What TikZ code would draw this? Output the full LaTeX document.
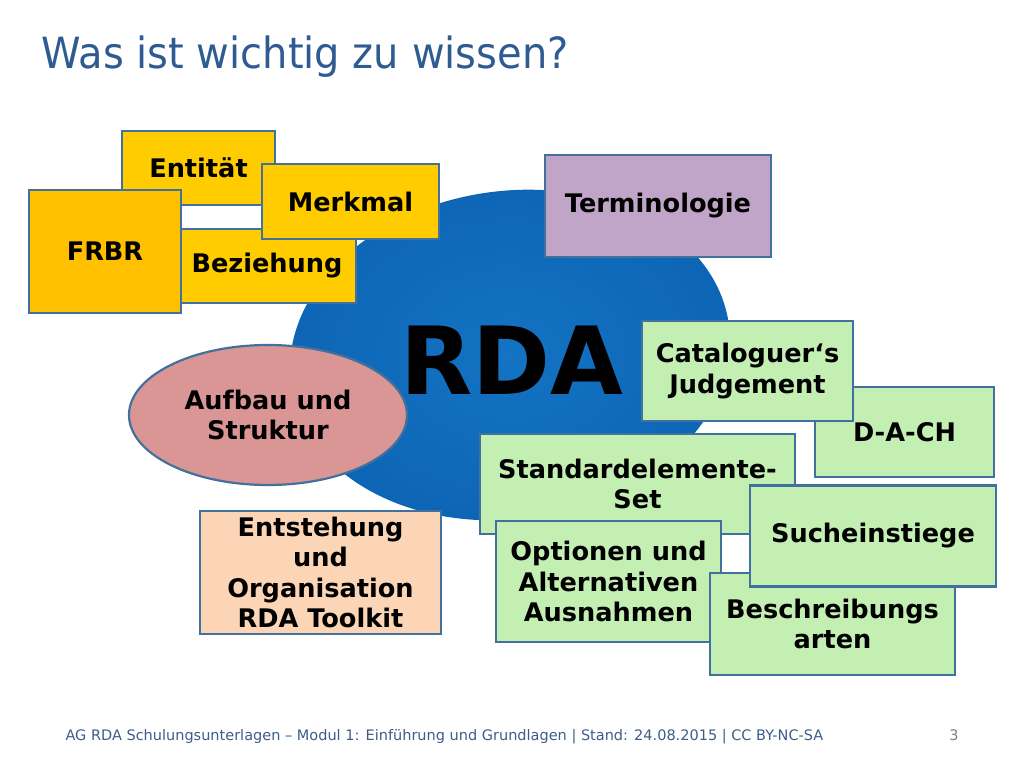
\documentclass[tikz,border=0pt]{standalone}
\usepackage{fontspec}
\setmainfont{DejaVu Sans}
\newfontfamily\slimfont[FakeStretch=0.93]{DejaVu Sans}
\newfontfamily\footfont{DejaVu Sans}
\usepackage{tikz}
\usetikzlibrary{shapes.geometric, positioning}

\definecolor{boxline}{HTML}{41719C}
\definecolor{gold}{HTML}{FFCC00}
\definecolor{frbrgold}{HTML}{FFC000}
\definecolor{lilac}{HTML}{C0A5C9}
\definecolor{rose}{HTML}{D99694}
\definecolor{peach}{HTML}{FBD5B5}
\definecolor{lightgreen}{HTML}{C4EFB2}
\definecolor{titleblue}{HTML}{2E5C92}
\definecolor{footblue}{HTML}{3D5D88}

\begin{document}
\begin{tikzpicture}[x=1pt,y=-1pt,
    font=\fontsize{25.6}{30.5}\selectfont\bfseries,
    box/.style={draw=boxline, line width=2.2pt, inner sep=0pt, align=center},
    goldbox/.style={box, fill=gold},
    greenbox/.style={box, fill=lightgreen}]

\useasboundingbox (0,0) rectangle (1024,768);

% Titel
\node[anchor=base west,
    text=titleblue,
    font=\slimfont\fontsize{43}{43}\selectfont
] (title) at (38,68) {Was ist wichtig zu wissen?};

% RDA
\node[ellipse,
    minimum width=442pt,
    minimum height=328pt,
    rotate=8,
    inner color={rgb,255:red,20;green,115;blue,196},
    outer color={rgb,255:red,13;green,100;blue,180}
] (blob) at (510,355) {};
\node[font=\fontsize{94}{94}\selectfont\bfseries] (rda) at (512,360) {RDA};

% FRBR-Gruppe
\node[goldbox,
    minimum width=153pt,
    minimum height=74pt
] (entitaet) at (198.5,168) {Entität};

\node[goldbox,
    minimum width=178pt,
    minimum height=74pt
] (beziehung) at (267,266) {Beziehung};

\node[goldbox,
    minimum width=177pt,
    minimum height=75pt
] (merkmal) at (350.5,201.5) {Merkmal};

\node[box, fill=frbrgold,
    minimum width=152pt,
    minimum height=123pt
] (frbr) at (105,251.5) {FRBR};

\node[box, fill=lilac,
    minimum width=226pt,
    minimum height=102pt
] (termino) at (658,206) {Terminologie};

\node[box, ellipse, fill=rose,
    minimum width=278pt,
    minimum height=140pt
] (aufbau) at (268,415) {Aufbau und\\Struktur};

\node[box, fill=peach,
    minimum width=241pt,
    minimum height=123pt
] (entstehung) at (320.5,572.5) {Entstehung\\und\\Organisation\\RDA Toolkit};

% gruene Kaesten
\node[greenbox,
    minimum width=179pt,
    minimum height=90pt
] (dach) at (904.5,432) {D-A-CH};

\node[greenbox,
    minimum width=211pt,
    minimum height=100pt
] (judgement) at (747.5,371) {Cataloguer\char"60 s\\Judgement};

\node[greenbox,
    minimum width=315pt,
    minimum height=100pt
] (standard) at (637.5,484) {Standardelemente-\\Set};

\node[greenbox,
    minimum width=225pt,
    minimum height=121pt
] (optionen) at (608.5,581.5) {Optionen und\\Alternativen\\Ausnahmen};

\node[greenbox,
    minimum width=245pt,
    minimum height=102pt
] (beschreib) at (832.5,624) {Beschreibungs\\arten};

\node[greenbox,
    minimum width=246pt,
    minimum height=101pt
] (suche) at (873,536) {Sucheinstiege};

% Fusszeile
\node[anchor=base west,
    text=footblue,
    font=\footfont\fontsize{14.5}{14.5}\selectfont
] (footer) at (62,740) {AG RDA Schulungsunterlagen – Modul 1: Einführung und Grundlagen | Stand: 24.08.2015 | CC BY-NC-SA};
\node[anchor=base east,
    text=gray,
    font=\footfont\fontsize{14.5}{14.5}\selectfont
] (page) at (962,740) {3};
\end{tikzpicture}
\end{document}
